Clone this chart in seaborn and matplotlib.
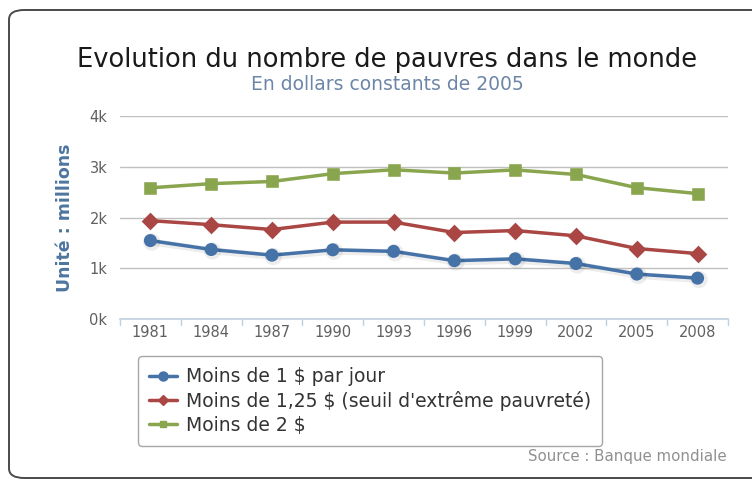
import pandas as pd
import matplotlib
matplotlib.use("Agg")
import matplotlib.pyplot as plt
import matplotlib.patheffects as pe
import seaborn as sns
from matplotlib.patches import FancyBboxPatch

years = ["1981", "1984", "1987", "1990", "1993", "1996", "1999", "2002", "2005", "2008"]
moins_1 = [1545, 1369, 1258, 1363, 1333, 1149, 1185, 1093, 885, 805]
moins_125 = [1938, 1858, 1763, 1909, 1910, 1704, 1743, 1639, 1389, 1289]
moins_2 = [2585, 2667, 2710, 2864, 2941, 2876, 2938, 2848, 2588, 2471]
series_names = ["Moins de 1 $ par jour",
                "Moins de 1,25 $ (seuil d'extrême pauvreté)",
                "Moins de 2 $"]
colors = ["#4572A7", "#AA4643", "#89A54E"]

df = pd.concat([
    pd.DataFrame({"Année": years, "Valeur": vals, "Série": name})
    for vals, name in zip([moins_1, moins_125, moins_2], series_names)
])

sns.set_style("white")
plt.rcParams["font.family"] = ["DejaVu Sans"]

fig = plt.figure(figsize=(7.52, 4.83), dpi=100)
ax = fig.add_axes([120 / 752, 1 - 319 / 483, 608 / 752, 203 / 483])

# outer rounded frame
frame = FancyBboxPatch((9 / 752, 5 / 483), 760 / 752, 468 / 483,
                       boxstyle="round,pad=0,rounding_size=0.02",
                       transform=fig.transFigure, fill=False,
                       edgecolor="#4a4a4a", linewidth=1.4, zorder=0)
fig.patches.append(frame)

sns.pointplot(data=df, x="Année", y="Valeur", hue="Série", palette=colors,
              markers=["o", "D", "s"], linestyles="-", ax=ax,
              linewidth=2.5, markersize=7, legend=False, zorder=3)
shadow = [pe.SimpleLineShadow(offset=(1, -1), alpha=0.07, linewidth=5), pe.Normal()]
for line, ms in zip(ax.lines, [7.5, 5.5, 5.5]):
    line.set_markersize(ms)
    line.set_path_effects(shadow)

ax.set_xlim(-0.5, len(years) - 0.5)
ax.set_ylim(0, 4000)
ax.set_yticks([0, 1000, 2000, 3000, 4000])
ax.set_yticklabels(["0k", "1k", "2k", "3k", "4k"])
ax.yaxis.grid(True, color="#C0C0C0", linewidth=1)
ax.set_axisbelow(True)
for side in ["top", "right", "left"]:
    ax.spines[side].set_visible(False)
ax.spines["bottom"].set_color("#C0D0E0")
ax.spines["bottom"].set_linewidth(1.2)
ax.tick_params(axis="y", length=0, labelsize=10.5, labelcolor="#606060", pad=9)
ax.tick_params(axis="x", length=0, labelsize=10.5, labelcolor="#606060", pad=4)
for k in range(len(years) + 1):
    ax.plot([k - 0.5, k - 0.5], [0, -0.03], transform=ax.get_xaxis_transform(),
            color="#C0D0E0", linewidth=1, clip_on=False)
ax.set_xlabel("")
ax.set_ylabel("Unité : millions", color="#4D759E", fontsize=12.5,
              fontweight="bold", labelpad=11)

fig.text(387 / 752, 1 - 60 / 483, "Evolution du nombre de pauvres dans le monde",
         ha="center", va="center", fontsize=18.5, color="#1a1a1a")
fig.text(387 / 752, 1 - 85 / 483, "En dollars constants de 2005",
         ha="center", va="center", fontsize=13.5, color="#6D86A8")

handles = [plt.Line2D([], [], color=c, marker=m, markersize=s, linewidth=2.5)
           for c, m, s in zip(colors, ["o", "D", "s"], [6.5, 5, 5])]
leg = fig.legend(handles, series_names, loc="upper left",
                 bbox_to_anchor=(138 / 752, 1 - 356 / 483), borderaxespad=0,
                 frameon=True, fontsize=13.5, handlelength=1.5,
                 handletextpad=0.45, labelspacing=0.25, borderpad=0.6,
                 fancybox=True)
leg.get_frame().set_edgecolor("#909090")
leg.get_frame().set_linewidth(1)
for t in leg.get_texts():
    t.set_color("#333333")

fig.text(727 / 752, 1 - 456 / 483, "Source : Banque mondiale", ha="right",
         va="center", fontsize=10.8, color="#909090")

fig.savefig("out.png", dpi=100)
